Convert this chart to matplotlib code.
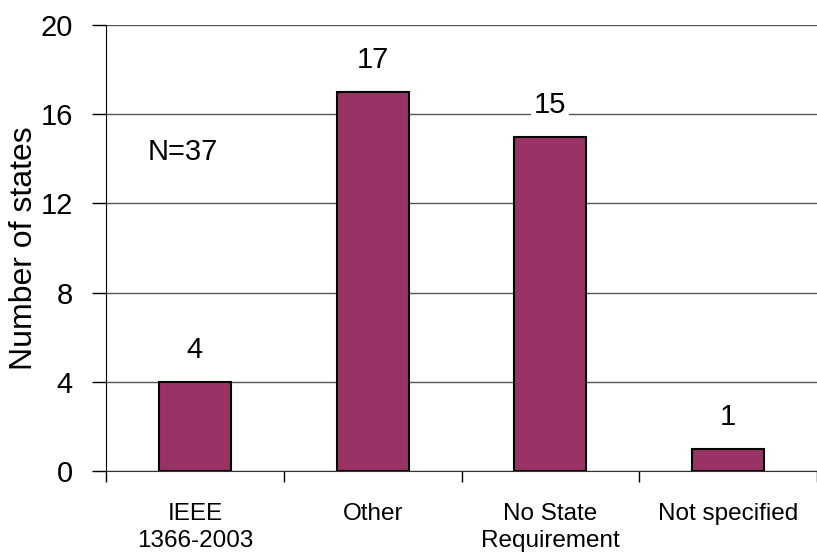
import matplotlib.pyplot as plt
import numpy as np

plt.rcParams['font.family'] = ['Liberation Sans', 'DejaVu Sans']

categories = ['IEEE\n1366-2003', 'Other', 'No State\nRequirement', 'Not specified']
counts = [4, 17, 15, 1]
yticks = [0, 4, 8, 12, 16, 20]

fig = plt.figure(figsize=(8.17, 5.55), dpi=100)
ax = fig.add_axes([106 / 817, 84 / 555, 1 - 106 / 817, 446 / 555])

x = np.arange(len(categories))
bars = ax.bar(x, counts, width=0.405, color='#993366', edgecolor='black', linewidth=1.5, zorder=3)

# value labels above bars, white box hides the gridline behind them
for b, v in zip(bars, counts):
    ax.text(b.get_x() + b.get_width() / 2, v + 0.8, str(v), ha='center', va='bottom',
            fontsize=21, zorder=4,
            bbox=dict(facecolor='white', edgecolor='none', pad=2))

ax.text(-0.07, 14.3, 'N=37', ha='center', va='center', fontsize=21)

ax.set_ylim(0, 20)
ax.set_xlim(-0.5, -0.5 + (817 - 106) / 180)
ax.set_yticks(yticks)
ax.tick_params(axis='y', labelsize=21, length=10, width=1, pad=14)
ax.yaxis.grid(True, color='#555555', linewidth=1)
ax.set_axisbelow(True)

ax.set_xticks(x)
ax.set_xticklabels(categories, fontsize=17.5, linespacing=1.3)
ax.tick_params(axis='x', which='major', length=0, pad=23)
ax.set_xticks(np.arange(-0.5, len(categories), 1), minor=True)
ax.tick_params(axis='x', which='minor', length=8, width=1)

ax.set_ylabel('Number of states', fontsize=23, labelpad=1)

for s in ['top', 'right']:
    ax.spines[s].set_visible(False)
ax.spines['bottom'].set_color('#333333')

fig.savefig('out.png', dpi=100)
